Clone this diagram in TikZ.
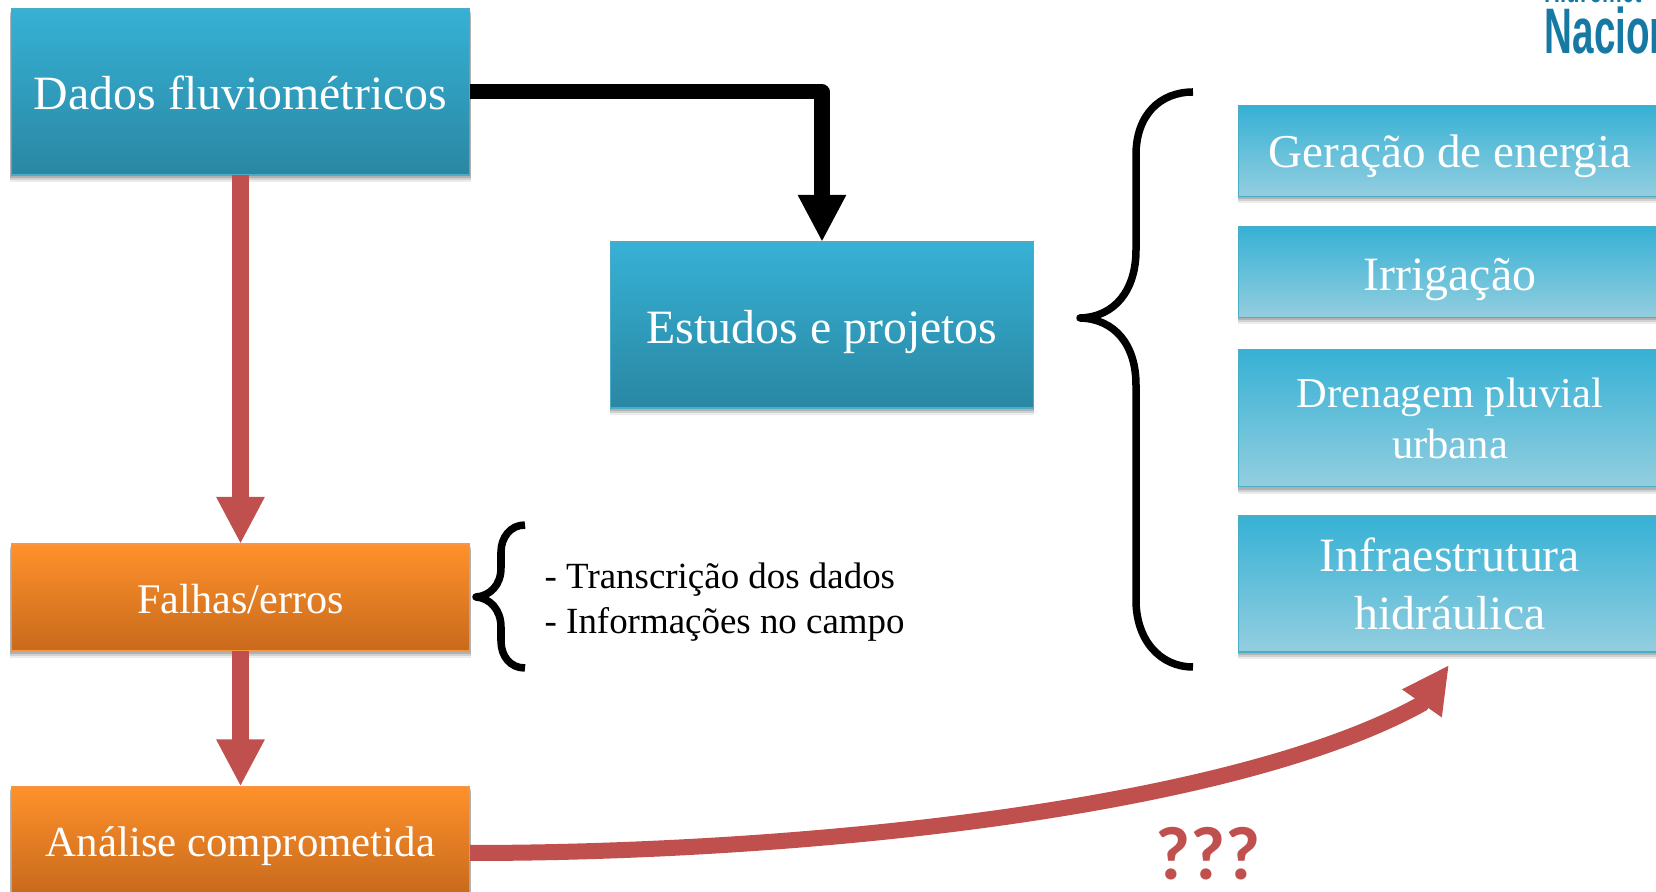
\documentclass[tikz,border=0pt]{standalone}
\usepackage{fontspec}
\setmainfont{Liberation Serif}
\newfontfamily\logofont{Liberation Sans}
\newfontfamily\marcafont{Carlito}
\usetikzlibrary{arrows.meta,shadows}
\definecolor{azultopo}{HTML}{36B1D5}
\definecolor{azulbase}{HTML}{2A87A3}
\definecolor{azulclaro}{HTML}{93CEDF}
\definecolor{azulborda}{HTML}{4BACC6}
\definecolor{laranjatopo}{HTML}{FF912B}
\definecolor{laranjabase}{HTML}{C86A1C}
\definecolor{laranjaborda}{HTML}{F79646}
\definecolor{vermelho}{HTML}{C0504D}
\definecolor{logocor}{HTML}{1579A3}
\begin{document}
\begin{tikzpicture}[x=0.01cm, y=-0.01cm, >={Triangle[length=0.47cm,width=0.45cm]},
    caixa/.style={rectangle, inner sep=0pt, outer sep=0pt, line width=0.015cm, text=white, align=center,
        drop shadow={shadow xshift=0cm, shadow yshift=-0.07cm, shadow scale=1.004, opacity=0.15},
        drop shadow={shadow xshift=0cm, shadow yshift=-0.05cm, shadow scale=1.004, opacity=0.25},
        drop shadow={shadow xshift=0cm, shadow yshift=-0.03cm, shadow scale=1.004, opacity=0.4}},
    azul/.style={caixa, draw=azulborda, top color=azultopo, bottom color=azulbase, minimum width=4.23cm, minimum height=1.66cm},
    claro/.style={caixa, draw=azulborda, top color=azultopo, bottom color=azulclaro, minimum width=4.23cm},
    laranja/.style={caixa, draw=laranjaborda, top color=laranjatopo, bottom color=laranjabase, minimum width=4.58cm, minimum height=1.07cm},
    linha/.style={text height=#1, text depth=0.1cm},
    seta/.style={->, line width=0.16cm, draw=vermelho},
    chave/.style={draw=black, line width=0.075cm, line join=round}]

    \useasboundingbox (0,0) rectangle (1656,892);
    \clip (0,0) rectangle (1656,892);

    % logo
    \node[anchor=base west, inner sep=0pt, text=logocor, font=\logofont\bfseries\fontsize{10.5}{12}\selectfont] (logotopo) at (1544,3) {\scalebox{0.6}[1]{Hidromet}};
    \node[anchor=base west, inner sep=0pt, text=logocor, font=\logofont\bfseries\fontsize{18.3}{20}\selectfont] (logo) at (1544,54) {\scalebox{0.6}[1]{Nacion}};

    % left column
    \node[azul, linha=0.45cm, minimum width=4.58cm, font=\fontsize{13.6}{16}\selectfont] (dados) at (240.5,92) {Dados fluviométricos};
    \node[laranja, linha=0.43cm, font=\fontsize{12}{14}\selectfont] (falhas) at (240.5,597.5) {Falhas/erros};
    \node[laranja, linha=0.43cm, font=\fontsize{12.2}{14}\selectfont] (analise) at (240.5,840) {Análise comprometida};

    % middle
    \node[azul, linha=0.47cm, font=\fontsize{13.6}{16}\selectfont] (estudos) at (822,325) {Estudos e projetos};

    % right column
    \node[claro, linha=0.44cm, minimum height=0.905cm, font=\fontsize{13.4}{16}\selectfont] (geracao) at (1450,151) {Geração de energia};
    \node[claro, linha=0.48cm, minimum height=0.905cm, font=\fontsize{13.6}{16}\selectfont] (irrigacao) at (1450,272) {Irrigação};
    \node[claro, minimum height=1.365cm, font=\fontsize{12.1}{14.5}\selectfont] (drenagem) at (1450,418) {Drenagem pluvial\\urbana};
    \node[claro, minimum height=1.355cm, font=\fontsize{13.6}{16.6}\selectfont] (infra) at (1450,584) {Infraestrutura\\hidráulica};

    % list beside the small brace
    \node[anchor=west, inner sep=0pt, align=left, font=\fontsize{10.5}{12.8}\selectfont] (lista) at (544,602) {- Transcrição dos dados\\- Informações no campo};

    \node[inner sep=0pt, text=vermelho, font=\marcafont\bfseries\fontsize{21.5}{26}\selectfont] (marca) at (1208,854) {???};

    % arrows
    \draw[->, line width=0.15cm, line join=round] (dados.east) -| (estudos.north);
    \draw[seta] (dados.south) -- (falhas.north);
    \draw[seta] (falhas.south) -- (analise.north);

    \coordinate (saida) at (470,853);
    \coordinate (curva) at (1421.5,704);
    \coordinate (alvo) at (1449,665);
    \draw[seta] (saida) .. controls (800,853) and (1230,809.5) .. (curva) -- (alvo);

    % braces
    \draw[chave] (1193,92) .. controls (1160,92) and (1136,115) .. (1136,155) -- (1136,250)
        .. controls (1136,290) and (1115,317) .. (1080,318)
        .. controls (1115,319) and (1136,345) .. (1136,385) -- (1136,600)
        .. controls (1136,640) and (1160,667) .. (1193,667);
    \draw[chave] (525,525) .. controls (510,525) and (501,538) .. (501,552) -- (501,568)
        .. controls (501,585) and (490,596) .. (476,597)
        .. controls (490,598) and (501,610) .. (501,627) -- (501,641)
        .. controls (501,656) and (510,668) .. (525,668);

\end{tikzpicture}
\end{document}
